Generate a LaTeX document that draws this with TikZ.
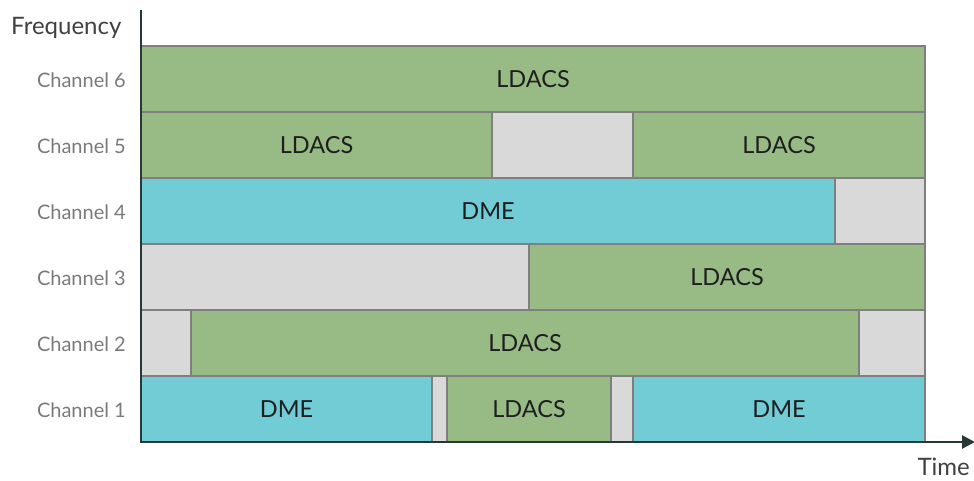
\documentclass[tikz,border=0pt]{standalone}
\usepackage{fontspec}
\setmainfont{Lato}
\usetikzlibrary{arrows.meta}
\definecolor{ldacs}{HTML}{98BB86}
\definecolor{dme}{HTML}{71CCD6}
\definecolor{idle}{HTML}{D9D9D9}
\definecolor{edge}{HTML}{7F7F7F}
\definecolor{axisc}{HTML}{263838}
\definecolor{labelc}{HTML}{7A7A7A}
\definecolor{textc}{HTML}{1E1E1E}
\tikzset{
  seg/.style={draw=edge, line width=1.4pt, inner sep=0pt, outer sep=0pt,
    minimum height=66pt, anchor=north west, text=textc,
    font=\fontsize{23.5}{23.5}\selectfont},
  ldacsbox/.style={seg, fill=ldacs},
  dmebox/.style={seg, fill=dme},
  idlebox/.style={seg, fill=idle},
  chlabel/.style={anchor=east, text=labelc, inner sep=0pt,
    font=\fontsize{20}{20}\selectfont},
  axislabel/.style={text=textc!85, inner sep=0pt,
    font=\fontsize{24}{24}\selectfont},
  axisline/.style={draw=axisc, line width=2.6pt},
}
\begin{document}
\begin{tikzpicture}[x=1pt, y=-1pt]
\useasboundingbox (0,0) rectangle (974,481);

% Channel 6
\node[ldacsbox, minimum width=784pt] (c6a) at (141,46) {LDACS};
% Channel 5
\node[ldacsbox, minimum width=351pt] (c5a) at (141,112) {LDACS};
\node[idlebox,  minimum width=141pt] (c5b) at (492,112) {};
\node[ldacsbox, minimum width=292pt] (c5c) at (633,112) {LDACS};
% Channel 4
\node[dmebox,   minimum width=694pt] (c4a) at (141,178) {DME};
\node[idlebox,  minimum width=90pt]  (c4b) at (835,178) {};
% Channel 3
\node[idlebox,  minimum width=388pt] (c3a) at (141,244) {};
\node[ldacsbox, minimum width=396pt] (c3b) at (529,244) {LDACS};
% Channel 2
\node[idlebox,  minimum width=50pt]  (c2a) at (141,310) {};
\node[ldacsbox, minimum width=668pt] (c2b) at (191,310) {LDACS};
\node[idlebox,  minimum width=66pt]  (c2c) at (859,310) {};
% Channel 1
\node[dmebox,   minimum width=291pt] (c1a) at (141,376) {DME};
\node[idlebox,  minimum width=15pt]  (c1b) at (432,376) {};
\node[ldacsbox, minimum width=164pt] (c1c) at (447,376) {LDACS};
\node[idlebox,  minimum width=22pt]  (c1d) at (611,376) {};
\node[dmebox,   minimum width=292pt] (c1e) at (633,376) {DME};

% Channel names
\node[chlabel] (l6) at (126,80)  {Channel 6};
\node[chlabel] (l5) at (126,146) {Channel 5};
\node[chlabel] (l4) at (126,212) {Channel 4};
\node[chlabel] (l3) at (126,278) {Channel 3};
\node[chlabel] (l2) at (126,344) {Channel 2};
\node[chlabel] (l1) at (126,410) {Channel 1};

% Axes
\coordinate (ytop) at (141,10);
\coordinate (orig) at (141,442);
\coordinate (xend) at (975,442);
\draw[axisline, -{Triangle[length=13pt, width=13pt]}] (ytop) -- (orig) -- (xend);
\node[axislabel, anchor=west] (freq) at (11,28) {Frequency};
\node[axislabel, anchor=east] (time) at (970,467) {Time};
\end{tikzpicture}
\end{document}
